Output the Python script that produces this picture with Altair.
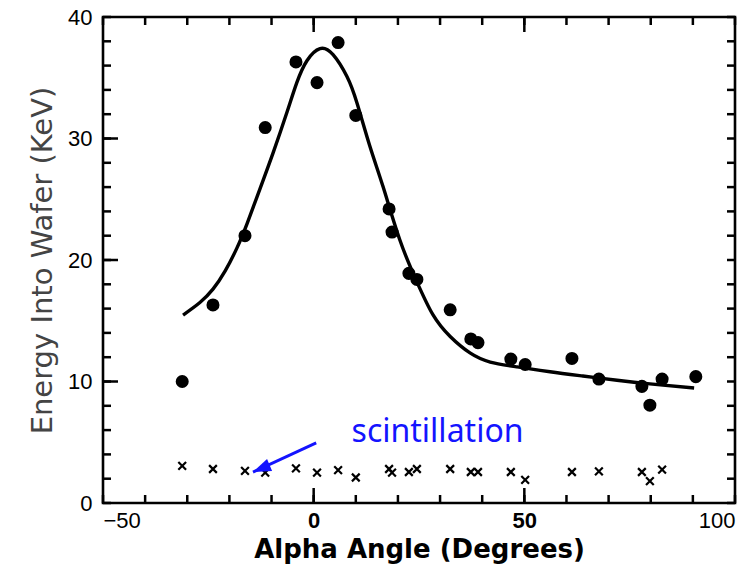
import altair as alt
import pandas as pd

# --- data ---
circ_x = [-31.2, -23.9, -16.3, -11.5, -4.2, 0.8, 5.8, 10.0, 17.9, 18.6, 22.6, 24.5,
          32.4, 37.3, 39.0, 46.8, 50.2, 61.3, 67.7, 77.9, 79.8, 82.7, 90.7]
circ_y = [10.0, 16.3, 22.0, 30.9, 36.3, 34.6, 37.9, 31.9, 24.2, 22.3, 18.9, 18.4,
          15.9, 13.5, 13.2, 11.85, 11.4, 11.9, 10.2, 9.6, 8.05, 10.2, 10.4]

cross_x = [-31.2, -23.9, -16.3, -11.5, -4.2, 0.8, 5.8, 10.0, 17.9, 18.6, 22.6, 24.5,
           32.4, 37.3, 39.0, 46.8, 50.2, 61.3, 67.7, 77.9, 79.8, 82.7]
cross_y = [3.05, 2.8, 2.65, 2.5, 2.85, 2.5, 2.7, 2.1, 2.8, 2.5, 2.55, 2.8,
           2.8, 2.55, 2.55, 2.55, 1.9, 2.55, 2.6, 2.55, 1.8, 2.75]

curve_x = [-31.0, -27.0, -23.9, -21.0, -18.2, -15.8, -12.7, -9.65, -6.3, -4.0, -1.6,
           1.5, 4.6, 7.9, 10.3, 13.4, 16.5, 20.5, 24.5, 28.3, 32.4, 37.1, 41.9,
           48.3, 56.1, 63.9, 72.0, 79.8, 90.3]
curve_y = [15.47, 16.5, 17.6, 19.1, 21.0, 23.0, 25.9, 28.8, 32.2, 34.6, 36.4,
           37.4, 36.9, 35.1, 32.9, 29.3, 26.0, 21.6, 18.2, 15.5, 13.7, 12.35, 11.6,
           11.2, 10.8, 10.45, 10.1, 9.8, 9.47]

arrow_x = [0.6, -14.4]
arrow_y = [4.95, 2.55]
label_text = ["scintillation"]
label_x = [9.0]
label_y = [5.05]

x_minor = [-50, -40, -30, -20, -10, 0, 10, 20, 30, 40, 50, 60, 70, 80, 90, 100]
x_major = [0, 50]
x_labels = [-50, 0, 50, 100]
y_minor = [0, 2, 4, 6, 8, 10, 12, 14, 16, 18, 20, 22, 24, 26, 28, 30, 32, 34, 36, 38, 40]
y_major = [10, 20, 30]
y_labels = [0, 10, 20, 30, 40]

X0, X1, Y0, Y1 = -50, 100, 0, 40
W, H = 632, 486
MINOR, MAJOR = 8, 15          # inward tick lengths, pixels
PX_X = (X1 - X0) / W          # data units per pixel
PX_Y = (Y1 - Y0) / H

circles = pd.DataFrame({"x": circ_x, "y": circ_y})
crosses = pd.DataFrame({"x": cross_x, "y": cross_y})
curve = pd.DataFrame({"x": curve_x, "y": curve_y})
arrow = pd.DataFrame({"x": arrow_x, "y": arrow_y})
tip = pd.DataFrame({"x": arrow_x[1:], "y": arrow_y[1:]})
label = pd.DataFrame({"x": label_x, "y": label_y, "t": label_text})

# tick marks: centred half a tick length inside the frame, so they point inward
xv = x_minor + x_major
xl = [MINOR] * len(x_minor) + [MAJOR] * len(x_major)
t_bot_df = pd.DataFrame({"x": xv, "y": [Y0 + l / 2 * PX_Y for l in xl], "len": xl})
t_top_df = pd.DataFrame({"x": xv, "y": [Y1 - l / 2 * PX_Y for l in xl], "len": xl})
yv = y_minor + y_major
yl = [MINOR] * len(y_minor) + [MAJOR] * len(y_major)
t_left_df = pd.DataFrame({"y": yv, "x": [X0 + l / 2 * PX_X for l in yl], "len": yl})
t_right_df = pd.DataFrame({"y": y_minor, "x": [X1 - MINOR / 2 * PX_X] * len(y_minor),
                           "len": [MINOR] * len(y_minor)})

XS = alt.Scale(domain=[X0, X1], nice=False, zero=False)
YS = alt.Scale(domain=[Y0, Y1], nice=False, zero=False)
TICKFONT = "Liberation Sans"

l_circ = alt.Chart(circles).mark_circle(size=170, color="black", opacity=1).encode(
    x=alt.X("x:Q", scale=XS, axis=alt.Axis(
        orient="bottom", values=x_labels, ticks=False, domain=False, grid=False,
        labelPadding=7, labelFontSize=22, labelFont=TICKFONT, labelColor="black",
        labelFontWeight={"condition": {"test": "datum.value == 0 || datum.value == 50", "value": "bold"}, "value": "normal"},
        title="Alpha Angle (Degrees)", titleFont="DejaVu Sans", titleFontSize=26,
        titleFontWeight="bold", titleColor="black", titlePadding=5)),
    y=alt.Y("y:Q", scale=YS, axis=alt.Axis(
        orient="left", values=y_labels, ticks=False, domain=False, grid=False,
        labelPadding=11, labelFontSize=22, labelFont=TICKFONT, labelColor="black",
        labelFontWeight="normal",
        title="Energy Into Wafer (KeV)", titleFont="DejaVu Sans", titleFontSize=29,
        titleFontWeight="normal", titleColor="#444444", titlePadding=10)),
)

l_cross = alt.Chart(crosses).mark_point(
    shape="M-1,-1L1,1M1,-1L-1,1", filled=False, color="black", strokeWidth=2.2,
    size=60, opacity=1).encode(x="x:Q", y="y:Q")

l_curve = alt.Chart(curve).mark_line(color="black", strokeWidth=3.4,
                                     interpolate="natural").encode(x="x:Q", y="y:Q")

l_arrow = alt.Chart(arrow).mark_line(color="#1414ff", strokeWidth=3).encode(
    x="x:Q", y="y:Q")

l_tip = alt.Chart(tip).mark_point(
    shape="M0,0L-0.36,1L0.36,1Z", filled=True, color="#1414ff", size=1300,
    angle=247, opacity=1).encode(x="x:Q", y="y:Q")

l_text = alt.Chart(label).mark_text(
    font="Noto Sans", fontSize=32, color="#1414ff", align="left",
    baseline="alphabetic").encode(x="x:Q", y="y:Q", text="t:N")

tk = dict(color="black", thickness=2.5, opacity=1)
sz = alt.Size("len:Q", scale=None, legend=None)
t_bottom = alt.Chart(t_bot_df).mark_tick(orient="vertical", **tk).encode(
    x="x:Q", y="y:Q", size=sz)
t_top = alt.Chart(t_top_df).mark_tick(orient="vertical", **tk).encode(
    x="x:Q", y="y:Q", size=sz)
t_left = alt.Chart(t_left_df).mark_tick(orient="horizontal", **tk).encode(
    x="x:Q", y="y:Q", size=sz)
t_right = alt.Chart(t_right_df).mark_tick(orient="horizontal", **tk).encode(
    x="x:Q", y="y:Q", size=sz)

chart = alt.layer(l_circ, l_cross, l_curve, l_arrow, l_tip, l_text,
                  t_bottom, t_top, t_left, t_right).properties(
    width=W, height=H, autosize="none",
    padding={"left": 103, "top": 17, "right": 8, "bottom": 70},
    background="white",
).configure_view(stroke="black", strokeWidth=2.6)

chart.save("out.html", embed_options={"renderer": "svg", "actions": False})
